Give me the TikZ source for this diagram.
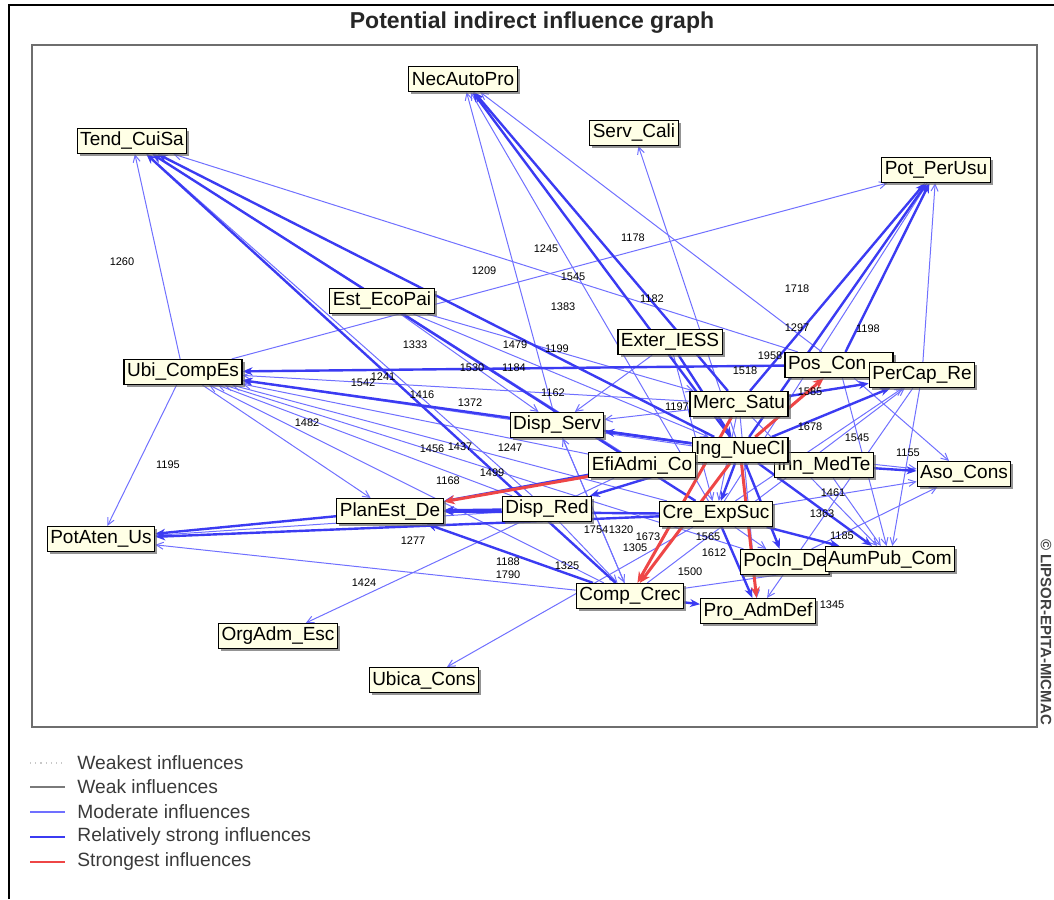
\documentclass[tikz,border=0pt]{standalone}
\usepackage{fontspec}
\setmainfont{Liberation Sans}
\usetikzlibrary{arrows.meta,shadows}
\definecolor{micFrame}{HTML}{6E6E6E}
\definecolor{micFill}{HTML}{FFFFE6}
\definecolor{micModerate}{HTML}{7070FF}
\definecolor{micStrong}{HTML}{3B3BF2}
\definecolor{micStrongest}{HTML}{EE4646}
\definecolor{micWeak}{HTML}{7A7A7A}
\definecolor{micWeakest}{HTML}{C8C8C8}
\definecolor{micText}{HTML}{3A3A3A}
\pgfdeclarelayer{edges}
\pgfsetlayers{edges,main}

\begin{document}
\begin{tikzpicture}[x=0.5pt,y=-0.5pt,
    var/.style={draw=black, line width=0.6pt, fill=micFill, font=\fontsize{9.5}{11}\selectfont,
      inner xsep=1.5pt, inner ysep=0pt, minimum height=12.5pt,
      drop shadow={shadow xshift=1.3pt, shadow yshift=-1.3pt, fill=black!60, opacity=0.7}},
    lbl/.style={font=\fontsize{5.5}{6}\selectfont, inner sep=0pt},
    infMod/.style={micModerate, line width=0.5pt, -{Straight Barb[length=3.5pt,width=3.5pt]}},
    infStrong/.style={micStrong, line width=1.2pt, -{Stealth[length=5pt,width=4pt]}},
    infMax/.style={micStrongest, line width=1.5pt, -{Stealth[length=5.5pt,width=4.5pt]}},
    legtext/.style={anchor=west, text=micText, font=\fontsize{9.6}{11}\selectfont, inner sep=0pt}]
  \useasboundingbox (0,0) rectangle (1054,899);

  % frames
  \draw[line width=0.7pt] (9,899) -- (9,5) -- (1054,5);
  \draw[micFrame, line width=1pt] (32,45) rectangle (1037,727);
  \node[font=\bfseries\fontsize{11.5}{13}\selectfont, text=black!85] (title) at (532,23) {Potential indirect influence graph};
  \node[rotate=-90, font=\bfseries\fontsize{7.5}{9}\selectfont, text=black!75] (copyr) at (1046,632) {© LIPSOR-EPITA-MICMAC};

  % influence values
  \node[lbl] (l1260) at (122,262) {1260};
  \node[lbl] (l1209) at (484,271) {1209};
  \node[lbl] (l1245) at (546,249) {1245};
  \node[lbl] (l1178) at (633,238) {1178};
  \node[lbl] (l1545a) at (573,277) {1545};
  \node[lbl] (l1718) at (797,289) {1718};
  \node[lbl] (l1182) at (652,299) {1182};
  \node[lbl] (l1383) at (563,307) {1383};
  \node[lbl] (l1297) at (797,328) {1297};
  \node[lbl] (l1198) at (868,329) {1198};
  \node[lbl] (l1333) at (415,345) {1333};
  \node[lbl] (l1479) at (515,345) {1479};
  \node[lbl] (l1199) at (557,349) {1199};
  \node[lbl] (l1530) at (472,368) {1530};
  \node[lbl] (l1184) at (514,368) {1184};
  \node[lbl] (l1542) at (363,383) {1542};
  \node[lbl] (l1241) at (383,377) {1241};
  \node[lbl] (l1416) at (422,395) {1416};
  \node[lbl] (l1372) at (470,403) {1372};
  \node[lbl] (l1162) at (553,393) {1162};
  \node[lbl] (l1482) at (307,423) {1482};
  \node[lbl] (l1456) at (432,449) {1456};
  \node[lbl] (l1437) at (460,447) {1437};
  \node[lbl] (l1247) at (510,448) {1247};
  \node[lbl] (l1195) at (168,465) {1195};
  \node[lbl] (l1168) at (448,481) {1168};
  \node[lbl] (l1499) at (492,473) {1499};
  \node[lbl] (l1277) at (413,541) {1277};
  \node[lbl] (l1424) at (364,583) {1424};
  \node[lbl] (l1188) at (508,562) {1188};
  \node[lbl] (l1790) at (508,575) {1790};
  \node[lbl] (l1325) at (567,566) {1325};
  \node[lbl] (l1754) at (596,530) {1754};
  \node[lbl] (l1320) at (621,530) {1320};
  \node[lbl] (l1673) at (648,537) {1673};
  \node[lbl] (l1305) at (635,548) {1305};
  \node[lbl] (l1565) at (708,537) {1565};
  \node[lbl] (l1612) at (714,553) {1612};
  \node[lbl] (l1500) at (690,572) {1500};
  \node[lbl] (l1345) at (832,605) {1345};
  \node[lbl] (l1155) at (908,453) {1155};
  \node[lbl] (l1545b) at (857,438) {1545};
  \node[lbl] (l1461) at (833,493) {1461};
  \node[lbl] (l1363) at (822,514) {1363};
  \node[lbl] (l1185) at (842,536) {1185};
  \node[lbl] (l1197) at (677,407) {1197};
  \node[lbl] (l1518) at (745,371) {1518};
  \node[lbl] (l1958) at (770,356) {1958};
  \node[lbl] (l1585) at (810,392) {1585};
  \node[lbl] (l1678) at (810,427) {1678};

  % variables
  \node[var] (nec) at (463,79) {NecAutoPro};
  \node[var] (tend) at (132,141) {Tend\_CuiSa};
  \node[var] (serv) at (634,133) {Serv\_Cali};
  \node[var] (potper) at (936,170) {Pot\_PerUsu};
  \node[var] (est) at (382,301) {Est\_EcoPai};
  \node[var] (exter) at (670,342) {Exter\_IESS};
  \node[var] (ubi) at (183,372) {Ubi\_CompEs};
  \node[var, text width=51pt, align=left] (poscon) at (839,365) {Pos\_Con};
  \node[var] (percap) at (922,375) {PerCap\_Re};
  \node[var] (merc) at (739,404) {Merc\_Satu};
  \node[var] (dispserv) at (557,425) {Disp\_Serv};
  \node[var] (medte) at (824,465) {inn\_MedTe};
  \node[var] (ing) at (740,450) {Ing\_NueCl};
  \node[var] (aso) at (964,474) {Aso\_Cons};
  \node[var] (efi) at (642,465) {EfiAdmi\_Co};
  \node[var] (plan) at (390,511) {PlanEst\_De};
  \node[var] (disp) at (547,509) {Disp\_Red};
  \node[var] (cre) at (716,514) {Cre\_ExpSuc};
  \node[var] (potaten) at (101,539) {PotAten\_Us};
  \node[var] (pocin) at (785,562) {PocIn\_De};
  \node[var] (aum) at (890,559) {AumPub\_Com};
  \node[var] (comp) at (630,596) {Comp\_Crec};
  \node[var] (pro) at (758,611) {Pro\_AdmDef};
  \node[var] (org) at (278,636) {OrgAdm\_Esc};
  \node[var] (ubica) at (424,680) {Ubica\_Cons};

  \begin{pgfonlayer}{edges}
    % moderate influences
    \foreach \a/\b in {ubi/tend, poscon/tend, efi/tend, disp/tend, dispserv/nec, poscon/nec, cre/nec,
        ing/serv, ubi/potper, percap/potper, cre/potper, est/merc, est/ing, est/dispserv,
        merc/ubi, efi/ubi, cre/ubi, dispserv/ubi, comp/ubi, disp/ubi, pocin/ubi, medte/ubi,
        ubi/potaten, disp/potaten, comp/potaten, ubi/plan, efi/org, cre/ubica,
        merc/dispserv, comp/dispserv, exter/cre, exter/dispserv, cre/percap, comp/percap,
        ing/aso, cre/aso, pocin/aso, poscon/aso, merc/aum, poscon/aum, comp/aum, percap/aum,
        medte/aum, cre/pocin, merc/pro, dispserv/comp, disp/comp, merc/cre, percap/pro}
      \draw[infMod] (\a) -- (\b);
    % relatively strong influences
    \foreach \a/\b in {comp/tend, ing/tend, cre/tend, ing/nec, merc/nec, poscon/potper, merc/potper,
        ing/potper, poscon/ubi, ing/ubi, plan/potaten, cre/potaten, disp/plan, cre/plan, comp/plan,
        efi/plan, ing/dispserv, exter/ing, ing/percap, merc/percap, medte/aso, ing/aum, cre/aum,
        ing/pocin, cre/pro, comp/pro, ing/cre, ing/disp, ing/efi}
      \draw[infStrong] (\a) -- (\b);
    % strongest influences
    \foreach \a/\b in {ing/plan, ing/comp, merc/comp, ing/pro, ing/poscon}
      \draw[infMax] (\a) -- (\b);
  \end{pgfonlayer}

  % legend
  \draw[micWeakest, line width=0.6pt, dotted] (30,763) -- (65,763);
  \node[legtext] (leg1) at (77,763) {Weakest influences};
  \draw[micWeak, line width=0.6pt] (30,787) -- (65,787);
  \node[legtext] (leg2) at (77,787) {Weak influences};
  \draw[micModerate, line width=0.6pt] (30,812) -- (65,812);
  \node[legtext] (leg3) at (77,812) {Moderate influences};
  \draw[micStrong, line width=1.2pt] (30,837) -- (65,837);
  \node[legtext] (leg4) at (77,837) {Relatively strong influences};
  \draw[micStrongest, line width=1.2pt] (30,862) -- (65,862);
  \node[legtext] (leg5) at (77,862) {Strongest influences};
\end{tikzpicture}
\end{document}
